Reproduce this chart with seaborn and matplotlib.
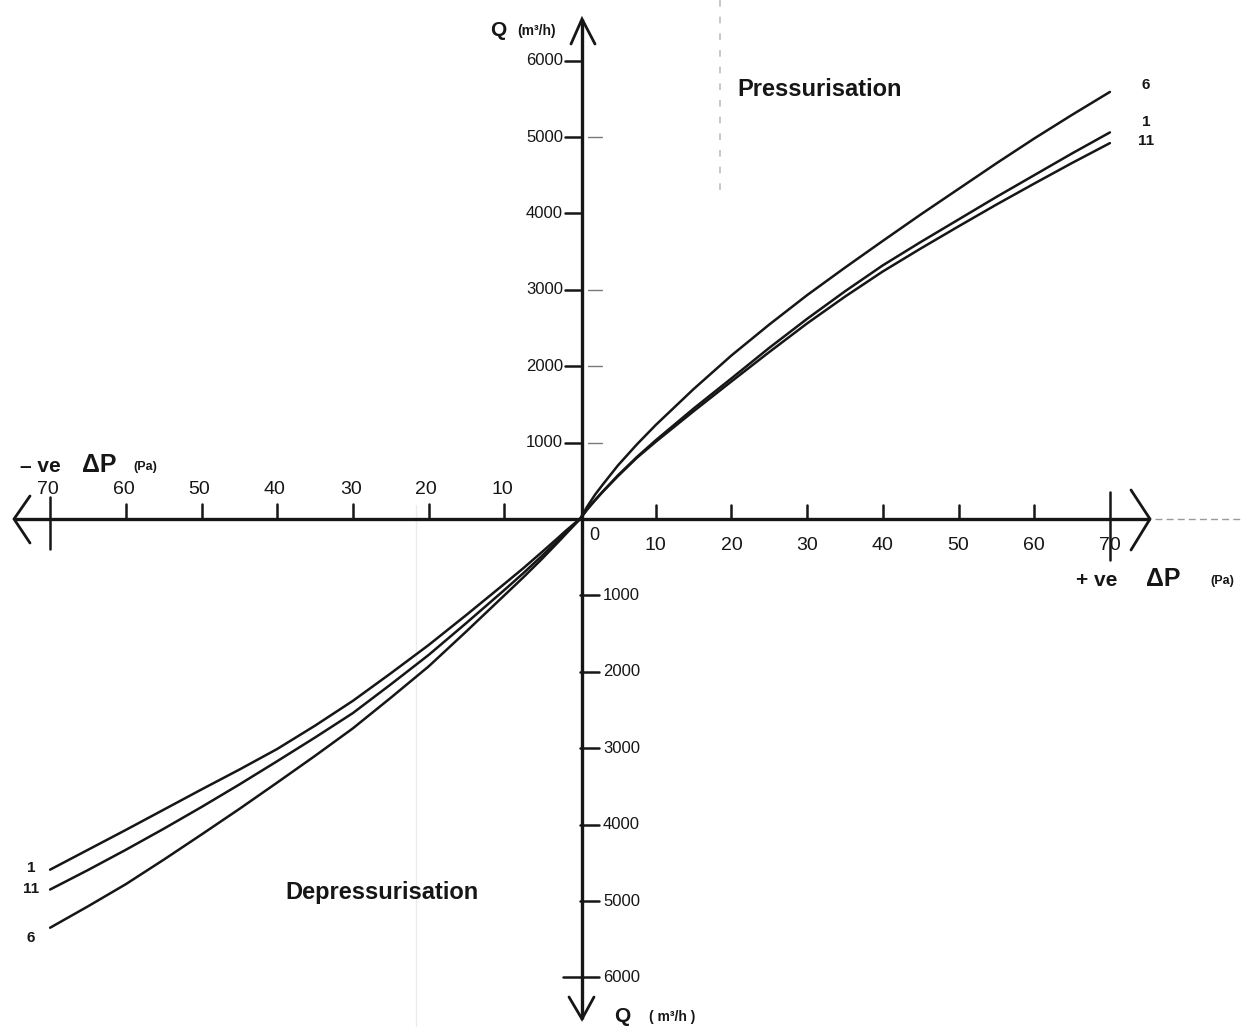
import numpy as np
import pandas as pd
import matplotlib
matplotlib.use("Agg")
import matplotlib.pyplot as plt
import seaborn as sns

# ---------------- data ----------------
dp_values = [0, 1, 2, 3, 5, 7.5, 10, 15, 20, 25, 30, 35, 40, 45, 50, 55, 60, 65, 70]   # |ΔP| in Pa

# Pressurisation (+ve ΔP), Q in m3/h
q6_pos  = [0, 170, 320, 450, 700, 975, 1230, 1700, 2140, 2545, 2930, 3290, 3640, 3985, 4320, 4655, 4980, 5290, 5590]
q1_pos  = [0, 135, 250, 360, 570, 810, 1030, 1445, 1840, 2240, 2620, 2980, 3320, 3625, 3920, 4215, 4500, 4785, 5060]
q11_pos = [0, 130, 245, 355, 560, 800, 1010, 1410, 1800, 2185, 2560, 2910, 3240, 3540, 3830, 4115, 4390, 4660, 4920]

# Depressurisation (-ve ΔP), Q in m3/h (negative)
q1_neg  = [0, -80, -165, -255, -430, -645, -850, -1255, -1650, -2020, -2380, -2705, -3010, -3280, -3540, -3805, -4070, -4330, -4590]
q11_neg = [0, -95, -190, -290, -480, -710, -930, -1360, -1780, -2165, -2540, -2860, -3170, -3475, -3770, -4055, -4330, -4595, -4850]
q6_neg  = [0, -105, -210, -315, -520, -765, -1000, -1470, -1930, -2340, -2740, -3100, -3450, -3795, -4130, -4460, -4780, -5070, -5350]

curve_names = ["1", "6", "11"]
x_tick_values = [10, 20, 30, 40, 50, 60, 70]
y_tick_values = [1000, 2000, 3000, 4000, 5000, 6000]
y_tick_labels_pos = ["1000", "2000", "3000", "4000", "5000", "6000"]
y_tick_labels_neg = ["1000", "2000", "3000", "4000", "5000", "6000"]

# ---------------- build long-form table ----------------
pos = {"1": q1_pos, "6": q6_pos, "11": q11_pos}
neg = {"1": q1_neg, "6": q6_neg, "11": q11_neg}
rows = []
for name in curve_names:
    for d, q in zip(dp_values, neg[name]):
        if d != 0:
            rows.append({"dp": -d, "q": q, "curve": name})
    for d, q in zip(dp_values, pos[name]):
        rows.append({"dp": d, "q": q, "curve": name})
df = pd.DataFrame(rows)

# ---------------- figure ----------------
sns.set_style("white")
plt.rcParams["font.family"] = ["Liberation Sans", "DejaVu Sans"]

W, H = 1241, 1027
fig = plt.figure(figsize=(W / 100, H / 100), dpi=100)
ax = fig.add_axes([0, 0, 1, 1])

X0, Y0 = 580.0, 519.0      # pixel position of origin
SX = 7.57                  # px per Pa
SY = 0.0764                # px per m3/h
ax.set_xlim(-X0 / SX, (W - X0) / SX)
ax.set_ylim(-(H - Y0) / SY, Y0 / SY)
ax.set_axis_off()

def P(px, py):
    """pixel layout position -> axes data position"""
    return (px - X0) / SX, (Y0 - py) / SY

ink = "#161616"

# faint scan artefacts (page folds)
ax.plot(*zip(P(720, 0), P(720, 200)), color="#bdbdbd", lw=1.2, ls=(0, (4, 6)), zorder=0)
ax.plot(*zip(P(416, 505), P(416, H)), color="#ececec", lw=1.0, zorder=0)
ax.plot(*zip(P(1155, 519), P(W, 519)), color="#9a9a9a", lw=1.0, ls=(0, (5, 3)), zorder=0)

# curves
sns.lineplot(data=df, x="dp", y="q", hue="curve", units="curve", estimator=None,
             palette={n: ink for n in curve_names}, linewidth=1.8, legend=False,
             sort=True, ax=ax, zorder=3)

# main axes lines
ax.plot(*zip(P(14, 519), P(1150, 519)), color=ink, lw=2.4, solid_capstyle="butt", zorder=2)
ax.plot(*zip(P(582, 19), P(582, 1019)), color=ink, lw=2.4, solid_capstyle="butt", zorder=2)

# arrow heads (open chevrons)
chev = dict(color=ink, lw=2.0, solid_joinstyle="miter", zorder=2)
ax.plot(*zip(P(30, 496), P(14, 519), P(30, 543)), **chev)
ax.plot(*zip(P(1131, 490), P(1150, 519), P(1131, 550)), **chev)
ax.plot(*zip(P(571, 44), P(582, 19), P(595, 44)), **chev)
ax.plot(*zip(P(569, 997), P(582, 1019), P(594, 997)), **chev)

tk = dict(color=ink, lw=1.8, zorder=2)
# x ticks and labels (positive side: ticks above, labels below)
for t in x_tick_values:
    if t == 70:
        ax.plot([t, t], [27 / SY, -41 / SY], **tk)
        ax.plot([-t, -t], [22 / SY, -30 / SY], **tk)
    else:
        ax.plot([t, t], [0, 14 / SY], **tk)
        ax.plot([-t, -t], [0, 15 / SY], **tk)
    ax.text(t, -27 / SY, str(t), ha="center", va="center", fontsize=14, color=ink)
    ax.text(-t - 0.3, 29 / SY, str(t), ha="center", va="center", fontsize=14, color=ink)
ax.text(*P(594, 535), "0", ha="center", va="center", fontsize=13, color=ink)

# y ticks and labels (positive: ticks left; negative: ticks right)
for q, lp, ln in zip(y_tick_values, y_tick_labels_pos, y_tick_labels_neg):
    ax.plot([-15 / SX, 0], [q, q], **tk)
    ax.text(-17 / SX, q, lp, ha="right", va="center", fontsize=12, color=ink)
    if q == 6000:
        ax.plot([-17 / SX, 19 / SX], [-q, -q], **tk)
    else:
        ax.plot([0, 19 / SX], [-q, -q], **tk)
    ax.text(23 / SX, -q, ln, ha="left", va="center", fontsize=12, color=ink)

# faint extra dashes right of the +Q axis (as on the original drawing)
for q in [1000, 2000, 3000, 5000]:
    ax.plot([8 / SX, 22 / SX], [q, q], color="#7a7a7a", lw=1.0, zorder=1)

# axis titles
bold = dict(fontweight="bold", color=ink)
ax.text(*P(498, 30), "Q", ha="center", va="center", fontsize=15, **bold)
ax.text(*P(537, 31), "(m³/h)", ha="center", va="center", fontsize=10, **bold)
ax.text(*P(622, 1016), "Q", ha="center", va="center", fontsize=15, **bold)
ax.text(*P(672, 1017), "( m³/h )", ha="center", va="center", fontsize=10, **bold)

ax.text(*P(40, 467), "– ve", ha="center", va="center", fontsize=15, **bold)
ax.text(*P(99, 465), "ΔP", ha="center", va="center", fontsize=18, **bold)
ax.text(*P(145, 467), "(Pa)", ha="center", va="center", fontsize=9, **bold)

ax.text(*P(1097, 580), "+ ve", ha="center", va="center", fontsize=15, **bold)
ax.text(*P(1163, 579), "ΔP", ha="center", va="center", fontsize=18, **bold)
ax.text(*P(1222, 581), "(Pa)", ha="center", va="center", fontsize=9, **bold)

# region labels
ax.text(*P(820, 90), "Pressurisation", ha="center", va="center", fontsize=17, **bold)
ax.text(*P(382, 892), "Depressurisation", ha="center", va="center", fontsize=17, **bold)

# curve labels
for name, py in zip(["6", "1", "11"], [85, 122, 141]):
    ax.text(*P(1146, py), name, ha="center", va="center", fontsize=11, **bold)
for name, py in zip(["1", "11", "6"], [868, 889, 938]):
    ax.text(*P(31, py), name, ha="center", va="center", fontsize=11, **bold)

fig.savefig("out.png", dpi=100, facecolor="white")
